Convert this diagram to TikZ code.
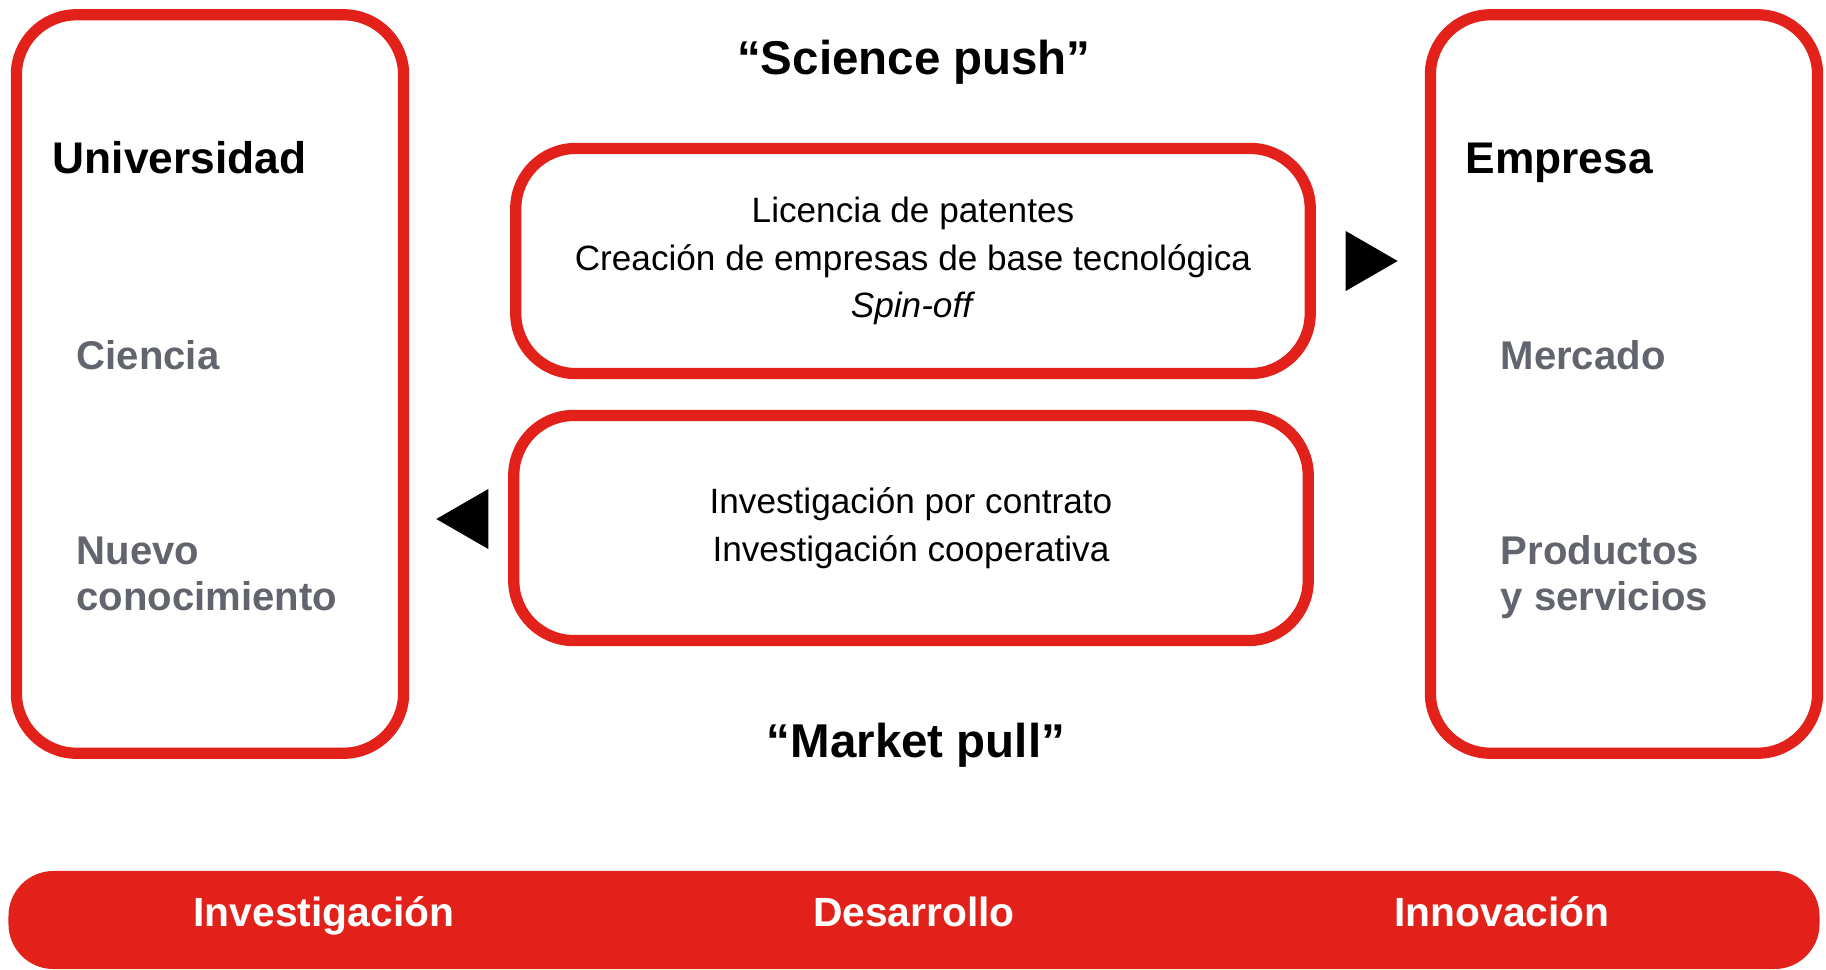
\documentclass[tikz,border=0pt]{standalone}
\usepackage{fontspec}
\setmainfont{Liberation Sans}
\usepackage{tikz}
\usetikzlibrary{shapes.geometric, arrows}
\definecolor{boxred}{RGB}{226,33,26}
\definecolor{labelgray}{RGB}{98,100,110}

\begin{document}
\begin{tikzpicture}[x=0.01cm, y=-0.01cm]
    \tikzstyle{sidebox} = [rectangle, rounded corners=0.6cm, minimum width=3.87cm, minimum height=7.38cm, draw=boxred, line width=3.2pt]
    \tikzstyle{midbox} = [rectangle, rounded corners=0.6cm, minimum width=7.94cm, minimum height=2.25cm, text centered, align=center, draw=boxred, line width=3.2pt, font=\fontsize{10}{13.6}\selectfont]
    \tikzstyle{heading} = [font=\fontsize{12.6}{15}\selectfont\bfseries, anchor=base west, inner sep=0pt]
    \tikzstyle{title} = [font=\fontsize{13.5}{15}\selectfont\bfseries, anchor=base, inner sep=0pt]
    \tikzstyle{keyword} = [font=\fontsize{11.4}{13}\selectfont\bfseries, text=labelgray, anchor=west, align=left, inner sep=0pt]
    \tikzstyle{flow} = [isosceles triangle, isosceles triangle stretches, fill=black, minimum width=0.6cm, minimum height=0.52cm, inner sep=0pt]
    \tikzstyle{stage} = [font=\fontsize{11.6}{14}\selectfont\bfseries, text=white, anchor=base]

    \useasboundingbox (0,0) rectangle (1826,969);

    \node (univ) [sidebox] at (210,384) {};
    \node (empresa) [sidebox] at (1624,384) {};
    \node (push) [midbox] at (913,261) {Licencia de patentes\\Creación de empresas de base tecnológica\\\textit{Spin-off}};
    \node (pull) [midbox] at (911,528) {Investigación por contrato\\Investigación cooperativa};

    \node (pushtitle) [title] at (914,74) {“Science push”};
    \node (pulltitle) [title] at (916,757) {“Market pull”};

    \node (univtitle) [heading] at (52,173) {Universidad};
    \node (ciencia) [keyword, anchor=base west] at (76,369) {Ciencia};
    \node (nuevo) [keyword] at (76,574) {Nuevo\\conocimiento};
    \node (emptitle) [heading] at (1465,173) {Empresa};
    \node (mercado) [keyword, anchor=base west] at (1500,369) {Mercado};
    \node (productos) [keyword] at (1500,577) {Productos\\y servicios};

    \node (pusharrow) [flow] at (1363,261) {};
    \node (pullarrow) [flow, shape border rotate=180] at (471,519) {};

    \node (bar) [rectangle, rounded corners=0.45cm, fill=boxred, minimum width=18.1cm, minimum height=0.98cm] at (914,920) {};
    \node (investigacion) [stage] at (324,926) {Investigación};
    \node (desarrollo) [stage] at (914,926) {Desarrollo};
    \node (innovacion) [stage] at (1502,926) {Innovación};
\end{tikzpicture}
\end{document}
